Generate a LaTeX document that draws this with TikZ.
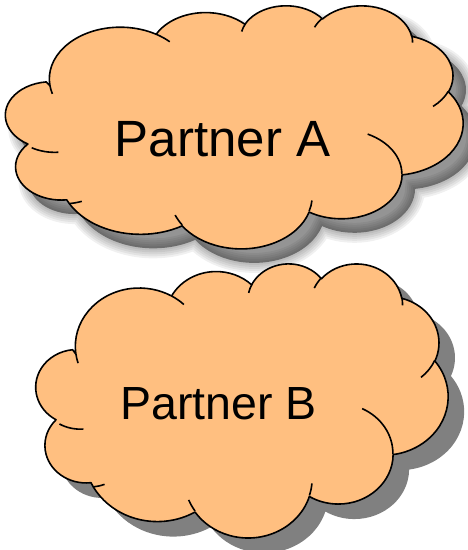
\documentclass[tikz,border=0pt]{standalone}
\usepackage{fontspec}
\setmainfont{Liberation Sans}
\definecolor{cloudfill}{RGB}{255,191,128}
\definecolor{shadowgray}{RGB}{128,128,128}
% arc given in DrawingML form: wR, hR, visual start angle, sweep (degrees)
\newcommand\carc[4]{arc[start angle={atan2((#1)*sin(#3),(#2)*cos(#3))},
  delta angle={mod(atan2((#1)*sin((#3)+(#4)),(#2)*cos((#3)+(#4)))-atan2((#1)*sin(#3),(#2)*cos(#3))+720,360)},
  x radius=#1, y radius=#2]}
\newcommand\cloudshape{(39.00,143.70)
  \carc{67.53}{91.90}{-190.4875}{123.7805}
  \carc{53.33}{72.67}{-144.1024}{89.9452}
  \carc{43.65}{59.45}{-145.8079}{99.7230}
  \carc{48.57}{65.95}{-130.9861}{117.2417}
  \carc{53.33}{72.73}{-78.7089}{109.0269}
  \carc{67.75}{92.20}{-46.2673}{130.2690}
  \carc{57.85}{78.67}{0.6250}{114.0333}
  \carc{67.52}{92.15}{22.4516}{115.1726}
  \carc{77.20}{105.43}{66.2426}{81.5900}
  \carc{43.60}{59.18}{-274.9421}{146.7356}
  \carc{43.45}{59.45}{-246.8285}{152.5189}
  -- cycle}
\newcommand\cloudticks{
  (46.93,261.77) \carc{43.45}{59.45}{86.7420}{26.4295}
  (69.28,348.99) \carc{43.60}{59.18}{73.6105}{11.4475}
  (164.78,390.90) \carc{67.52}{92.15}{137.6242}{14.0811}
  (288.27,347.51) \carc{67.52}{92.15}{6.4533}{15.9984}
  (341.29,229.54) \carc{57.85}{78.67}{-70.2924}{70.9174}
  (417.98,153.54) \carc{53.33}{72.73}{30.3180}{27.7515}
  (383.24,54.26) \carc{48.57}{65.95}{-13.7443}{14.8589}
  (290.78,39.52) \carc{48.57}{65.95}{-149.1815}{18.1954}
  (221.41,47.20) \carc{43.65}{59.45}{-163.4943}{17.6864}
  (140.00,51.92) \carc{67.53}{91.90}{-66.7070}{12.3194}
  (41.27,157.89) \carc{67.53}{91.90}{157.6544}{11.8582}}
\tikzset{
  cloudbody/.style={fill=cloudfill, draw=black, line width=1.6pt, line join=round},
  cloudtick/.style={draw=black, line width=1.6pt, line cap=butt},
  softshadow/.style={draw=black, fill=none, draw opacity=0.06},
  label/.style={inner sep=0pt, anchor=base, text=black}
}
\begin{document}
\begin{tikzpicture}[x=1pt,y=-1pt]
\useasboundingbox (0,0) rectangle (467,550);
% ---- Cloud A (soft shadow) ----
\begin{scope}[shift={(22,19)}, x=1.05093pt, y=-0.5625pt]
  \foreach \w in {20,16,12,8,4}
    \path[softshadow, line width=\w pt] \cloudshape;
  \path[fill=black, fill opacity=0.42] \cloudshape;
\end{scope}
\begin{scope}[shift={(9,5)}, x=1.05093pt, y=-0.5625pt]
  \path[cloudbody] \cloudshape;
  \path[cloudtick] \cloudticks;
\end{scope}
% ---- Cloud B (hard shadow) ----
\begin{scope}[shift={(55,278)}, x=0.94676pt, y=-0.63426pt]
  \path[fill=shadowgray] \cloudshape;
\end{scope}
\begin{scope}[shift={(39,263)}, x=0.94676pt, y=-0.63426pt]
  \path[cloudbody] \cloudshape;
  \path[cloudtick] \cloudticks;
\end{scope}
\node[label, font=\fontsize{51}{60}\selectfont] (pa) at (222.5,156) {Partner A};
\node[label, font=\fontsize{46.5}{55}\selectfont] (pb) at (218.5,419) {Partner B};
\end{tikzpicture}
\end{document}
